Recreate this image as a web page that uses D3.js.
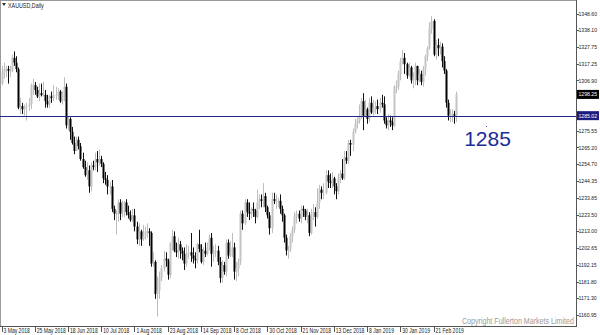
<!DOCTYPE html>
<html>
<head>
<meta charset="utf-8">
<script src="https://cdnjs.cloudflare.com/ajax/libs/d3/7.8.5/d3.min.js"></script>
<style>
  body { margin: 0; background: #fff; }
  svg { display: block; font-family: "Liberation Sans", Arial, sans-serif; }
</style>
</head>
<body>
<svg width="600" height="335"></svg>
<script>
// daily XAUUSD bars, 3 May 2018 .. 8 Mar 2019
const opens = [1305,1312,1314,1314,1313,1313,1321,1318,1314,1290,1291,1289,1291,1291,1292,1304,1304,1301,1297,1299,1298,1298,1294,1292,1297,1296,1298,1298,1300,1294,1299,1303,1279,1283,1275,1268,1263,1270,1266,1258,1253,1248,1251,1241,1254,1253,1258,1256,1258,1255,1246,1245,1241,1241,1227,1224,1224,1231,1224,1225,1231,1225,1223,1220,1223,1216,1208,1213,1208,1210,1213,1213,1212,1193,1194,1174,1176,1184,1190,1196,1195,1186,1206,1210,1201,1200,1205,1201,1199,1193,1199,1200,1198,1196,1195,1205,1202,1194,1201,1199,1203,1209,1199,1200,1201,1194,1184,1192,1188,1206,1198,1200,1203,1188,1190,1194,1224,1218,1231,1225,1224,1227,1226,1222,1231,1233,1232,1235,1228,1223,1215,1233,1232,1232,1232,1227,1223,1209,1201,1202,1210,1214,1222,1224,1221,1227,1226,1222,1223,1212,1224,1225,1222,1231,1239,1237,1237,1248,1244,1243,1246,1241,1238,1246,1249,1246,1259,1257,1268,1267,1275,1280,1282,1285,1294,1285,1289,1283,1293,1287,1290,1291,1289,1293,1292,1282,1279,1282,1281,1279,1303,1303,1311,1319,1321,1317,1310,1315,1307,1309,1316,1307,1311,1306,1314,1322,1327,1339,1344,1323,1329,1327,1328,1319,1313,1293,1285,1286,1286,1285];
const highs = [1316,1318,1316,1316,1316,1323,1325,1322,1315,1296,1293,1292,1293,1296,1305,1308,1306,1303,1305,1305,1306,1301,1298,1298,1300,1304,1303,1302,1301,1300,1309,1305,1284,1284,1278,1272,1272,1272,1268,1262,1257,1256,1254,1256,1257,1262,1263,1264,1260,1256,1250,1248,1244,1245,1229,1226,1233,1233,1232,1232,1233,1229,1226,1227,1227,1219,1218,1214,1217,1216,1218,1215,1213,1200,1195,1185,1188,1192,1201,1200,1196,1206,1214,1213,1206,1209,1207,1203,1203,1205,1204,1212,1203,1200,1206,1214,1205,1203,1206,1206,1211,1212,1204,1205,1204,1197,1195,1194,1208,1208,1207,1212,1206,1194,1196,1226,1226,1233,1233,1231,1228,1231,1227,1239,1236,1236,1243,1237,1229,1225,1237,1237,1236,1234,1236,1229,1224,1211,1204,1212,1216,1225,1226,1226,1229,1229,1227,1227,1225,1227,1230,1228,1240,1242,1241,1243,1251,1251,1249,1250,1247,1243,1249,1251,1258,1263,1263,1270,1270,1277,1283,1284,1292,1296,1299,1295,1290,1296,1297,1295,1294,1295,1296,1298,1297,1284,1286,1285,1284,1304,1307,1313,1321,1326,1324,1318,1318,1316,1312,1318,1316,1314,1313,1316,1323,1328,1343,1347,1345,1332,1333,1331,1330,1322,1314,1295,1289,1289,1288,1300];
const lows = [1304,1308,1309,1305,1309,1312,1316,1312,1289,1286,1286,1285,1282,1288,1289,1298,1298,1296,1294,1297,1297,1290,1290,1290,1293,1294,1295,1295,1293,1292,1294,1277,1276,1270,1267,1261,1263,1264,1257,1252,1247,1245,1237,1238,1251,1251,1250,1254,1253,1243,1242,1236,1236,1225,1220,1211,1219,1220,1222,1222,1223,1221,1219,1219,1213,1205,1204,1204,1207,1208,1209,1204,1191,1191,1171,1160,1171,1182,1188,1191,1183,1184,1201,1200,1197,1196,1196,1195,1189,1191,1196,1194,1193,1190,1193,1200,1193,1192,1197,1198,1201,1191,1194,1197,1192,1181,1181,1186,1185,1196,1197,1197,1183,1182,1185,1192,1214,1217,1222,1220,1221,1222,1218,1221,1227,1228,1228,1225,1221,1211,1212,1230,1227,1228,1224,1219,1206,1198,1196,1200,1206,1212,1218,1219,1218,1222,1220,1218,1210,1211,1220,1216,1221,1227,1233,1233,1236,1240,1240,1240,1236,1233,1236,1243,1245,1245,1255,1255,1260,1263,1274,1277,1280,1283,1276,1284,1280,1281,1286,1285,1286,1286,1287,1290,1280,1277,1276,1278,1276,1278,1299,1301,1307,1317,1311,1308,1309,1305,1302,1304,1304,1306,1304,1303,1310,1319,1326,1336,1322,1320,1322,1323,1315,1311,1290,1282,1281,1281,1280,1281];
const closes = [1312,1314,1314,1313,1313,1321,1318,1314,1290,1291,1289,1291,1291,1292,1304,1304,1301,1297,1299,1298,1298,1294,1292,1297,1296,1298,1298,1300,1294,1299,1303,1279,1283,1275,1268,1263,1270,1266,1258,1253,1248,1251,1241,1254,1253,1258,1256,1258,1255,1246,1245,1241,1241,1227,1224,1224,1231,1224,1225,1231,1225,1223,1220,1223,1216,1208,1213,1208,1210,1213,1213,1212,1193,1194,1174,1176,1184,1190,1196,1195,1186,1206,1210,1201,1200,1205,1201,1199,1193,1199,1200,1198,1196,1195,1205,1202,1194,1201,1199,1203,1209,1199,1200,1201,1194,1184,1192,1188,1206,1198,1200,1203,1188,1190,1194,1224,1218,1231,1225,1224,1227,1226,1222,1231,1233,1232,1235,1228,1223,1215,1233,1232,1232,1232,1227,1223,1209,1201,1202,1210,1214,1222,1224,1221,1227,1226,1222,1223,1212,1224,1225,1222,1231,1239,1237,1237,1248,1244,1243,1246,1241,1238,1246,1249,1246,1259,1257,1268,1267,1275,1280,1282,1285,1294,1285,1289,1283,1293,1287,1290,1291,1289,1293,1292,1282,1279,1282,1281,1279,1303,1303,1311,1319,1321,1317,1310,1315,1307,1309,1316,1307,1311,1306,1314,1322,1327,1339,1344,1323,1329,1327,1328,1319,1313,1293,1285,1286,1286,1285,1298.25];

const dateLabels = ["3 May 2018","25 May 2018","18 Jun 2018","10 Jul 2018","1 Aug 2018","23 Aug 2018","14 Sep 2018","8 Oct 2018","30 Oct 2018","21 Nov 2018","13 Dec 2018","8 Jan 2019","30 Jan 2019","21 Feb 2019"];
const dateIndex = [0,16,32,48,64,80,96,112,128,144,160,176,192,208];

const priceTicks = [1348.60,1338.10,1327.75,1317.25,1306.90,1296.40,1286.05,1275.55,1265.20,1254.70,1244.35,1233.85,1223.50,1213.00,1202.65,1192.15,1181.80,1171.30,1160.95];

const supportLevel = 1285.02;
const lastPrice = 1298.25;

const svg = d3.select("svg"),
      width = +svg.attr("width"),
      height = +svg.attr("height");

const plotRight = 576, plotBottom = 326;

const x = d3.scaleLinear().domain([0, 219]).range([1.5, 1.5 + 219 * 2.077]);
const y = d3.scaleLinear().domain([1160.95, 1348.60]).range([315, 13.5]);

// squeeze small labels a bit, the terminal font is narrow
function squeeze(sel, k) {
  sel.each(function() {
    const w = this.getComputedTextLength();
    d3.select(this).attr("textLength", w * k).attr("lengthAdjust", "spacingAndGlyphs");
  });
}

// frame
svg.append("line").attr("x1", 0.5).attr("x2", 0.5).attr("y1", 0).attr("y2", plotBottom)
    .attr("stroke", "#9a9a9a");
svg.append("line").attr("x1", 0).attr("x2", plotRight).attr("y1", 0.5).attr("y2", 0.5)
    .attr("stroke", "#9a9a9a");
svg.append("line").attr("x1", plotRight + 0.5).attr("x2", plotRight + 0.5).attr("y1", 0).attr("y2", plotBottom)
    .attr("stroke", "#555");
svg.append("line").attr("x1", 0).attr("x2", plotRight + 1).attr("y1", plotBottom + 0.5).attr("y2", plotBottom + 0.5)
    .attr("stroke", "#555");

// price axis
const yAxis = svg.append("g").attr("class", "yaxis");
yAxis.selectAll("line")
    .data(priceTicks)
    .enter().append("line")
    .attr("x1", plotRight).attr("x2", plotRight + 3)
    .attr("y1", function(d) { return Math.round(y(d)) + 0.5; })
    .attr("y2", function(d) { return Math.round(y(d)) + 0.5; })
    .attr("stroke", "#555");
yAxis.selectAll("text")
    .data(priceTicks)
    .enter().append("text")
    .attr("x", plotRight + 2.5)
    .attr("y", function(d) { return y(d) + 2.1; })
    .attr("font-size", 5.7)
    .attr("fill", "#222")
    .text(function(d) { return d.toFixed(2); })
    .call(squeeze, 0.9);

// date axis
const xAxis = svg.append("g").attr("class", "xaxis");
xAxis.selectAll("line")
    .data(dateIndex)
    .enter().append("line")
    .attr("x1", function(d) { return Math.round(x(d)) + 0.5; })
    .attr("x2", function(d) { return Math.round(x(d)) + 0.5; })
    .attr("y1", plotBottom).attr("y2", plotBottom + 6)
    .attr("stroke", "#555");
xAxis.selectAll("text")
    .data(dateIndex)
    .enter().append("text")
    .attr("x", function(d) { return x(d) + 2; })
    .attr("y", plotBottom + 6.5)
    .attr("font-size", 6.3)
    .attr("fill", "#222")
    .text(function(d, i) { return dateLabels[i]; })
    .call(squeeze, 0.8);

// candles
const bars = d3.range(opens.length);
const candle = svg.append("g").attr("class", "candles")
    .selectAll("g")
    .data(bars)
    .enter().append("g");

candle.append("line")
    .attr("x1", function(i) { return Math.round(x(i)) + 0.5; })
    .attr("x2", function(i) { return Math.round(x(i)) + 0.5; })
    .attr("y1", function(i) { return y(highs[i]); })
    .attr("y2", function(i) { return y(lows[i]); })
    .attr("stroke", function(i) { return closes[i] < opens[i] ? "#111" : "#bdbdbd"; });

candle.append("rect")
    .attr("x", function(i) { return Math.round(x(i)) - 0.5; })
    .attr("width", 2)
    .attr("y", function(i) { return y(Math.max(opens[i], closes[i])); })
    .attr("height", function(i) { return Math.max(1, Math.abs(y(opens[i]) - y(closes[i]))); })
    .attr("fill", function(i) { return closes[i] < opens[i] ? "#000" : "#c4c4c4"; });

// support line
svg.append("line")
    .attr("x1", 0).attr("x2", plotRight)
    .attr("y1", Math.round(y(supportLevel)) + 0.5).attr("y2", Math.round(y(supportLevel)) + 0.5)
    .attr("stroke", "#24248c");

// price boxes on the axis
function priceBox(v, bg) {
  const yy = y(v);
  svg.append("rect")
      .attr("x", plotRight + 1).attr("y", yy - 4.5)
      .attr("width", 22).attr("height", 9)
      .attr("fill", bg);
  svg.append("text")
      .attr("x", plotRight + 2.5).attr("y", yy + 2.1)
      .attr("font-size", 5.7)
      .attr("fill", "#fff")
      .text(v.toFixed(2))
      .call(squeeze, 0.9);
}
priceBox(lastPrice, "#000");
priceBox(supportLevel, "#1c1c80");

// title
svg.append("path").attr("d", "M2,3 L6,3 L4,6 Z").attr("fill", "#333");
svg.append("text")
    .attr("x", 8).attr("y", 7.5)
    .attr("font-size", 6.3)
    .attr("fill", "#222")
    .text("XAUUSD,Daily")
    .call(squeeze, 0.85);

// level annotation
svg.append("rect").attr("x", 486).attr("y", 126).attr("width", 1).attr("height", 1).attr("fill", "#3a4ab0");
svg.append("text")
    .attr("x", 487.5).attr("y", 145.5)
    .attr("text-anchor", "middle")
    .attr("font-size", 21)
    .attr("fill", "#1b2c94")
    .text("1285");

// watermark, narrow font stretched up to the reference height
svg.append("text")
    .attr("transform", "translate(462,323.5) scale(1,1.3)")
    .attr("font-size", 7.1)
    .attr("fill", "#9b9b9b")
    .text("Copyright Fullerton Markets Limited");
</script>
</body>
</html>
